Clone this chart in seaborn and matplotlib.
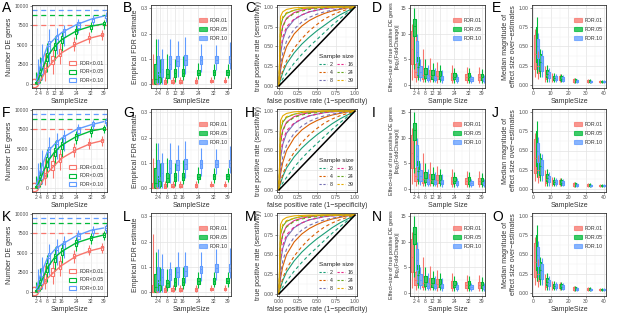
import numpy as np
import pandas as pd
import matplotlib
matplotlib.use("Agg")
import matplotlib.pyplot as plt
import seaborn as sns
from matplotlib.patches import Patch
from matplotlib.lines import Line2D
from matplotlib.ticker import FixedLocator

# ---------------- data ----------------
sample_sizes = [2, 4, 8, 12, 16, 24, 32, 39]
fdr_labels_A = ["FDR<0.01", "FDR<0.05", "FDR<0.10"]
fdr_labels = ["FDR.01", "FDR.05", "FDR.10"]
fdr_colors = ["#F8766D", "#00BA38", "#619CFF"]
de_truth = [7600, 8900, 9500]   # dashed reference lines (FDR .01/.05/.10)

# (lower whisker, q1, median, q3, upper whisker) for each sample size
A_row1 = [
    [(0, 0, 0, 0, 50), (0, 100, 300, 600, 1500), (300, 1500, 2000, 2700, 4000), (1200, 2500, 3100, 3600, 4500),
     (2500, 3600, 4000, 4500, 5200), (4200, 4800, 5100, 5400, 6000), (5200, 5700, 5900, 6100, 6600), (5600, 6100, 6300, 6500, 6900)],
    [(0, 0, 50, 200, 1500), (100, 500, 1100, 1800, 3500), (1500, 2900, 3500, 4000, 5200), (3000, 4300, 4800, 5300, 6200),
     (4200, 5200, 5700, 6100, 6700), (5700, 6400, 6800, 7100, 7500), (6600, 7100, 7400, 7600, 8000), (7100, 7500, 7700, 7900, 8200)],
    [(0, 100, 400, 1200, 3200), (500, 1200, 2200, 3300, 5100), (2500, 4000, 4800, 5500, 7000), (3800, 5200, 5800, 6300, 7200),
     (4800, 6000, 6600, 7000, 7600), (6500, 7200, 7600, 7900, 8300), (7500, 8000, 8300, 8500, 8800), (8000, 8500, 8700, 8900, 9200)],
]
A_row2 = [
    [(0, 0, 0, 0, 50), (0, 100, 300, 600, 1400), (300, 1300, 1900, 2500, 3800), (1200, 2300, 2900, 3400, 4300),
     (2300, 3300, 3800, 4300, 5000), (4000, 4600, 4900, 5200, 5800), (5000, 5500, 5700, 5900, 6400), (5400, 5900, 6100, 6300, 6700)],
    [(0, 0, 50, 200, 1500), (100, 500, 1000, 1700, 3300), (1400, 2700, 3300, 3900, 5000), (2900, 4100, 4600, 5100, 6000),
     (4000, 5000, 5500, 5900, 6500), (5600, 6200, 6600, 6900, 7300), (6500, 7000, 7300, 7500, 7900), (7000, 7400, 7600, 7800, 8100)],
    [(0, 100, 400, 1100, 3200), (500, 1100, 2100, 3200, 4900), (2400, 3900, 4600, 5300, 6500), (3700, 5000, 5600, 6100, 7000),
     (4700, 5800, 6400, 6800, 7400), (6400, 7100, 7500, 7800, 8200), (7400, 7900, 8100, 8400, 8700), (7900, 8300, 8500, 8700, 9000)],
]
A_row3 = [
    [(0, 0, 0, 0, 50), (0, 100, 250, 500, 1200), (300, 1100, 1700, 2300, 3500), (1000, 2000, 2600, 3100, 4000),
     (2000, 2900, 3400, 3900, 4600), (3700, 4300, 4600, 4900, 5400), (4700, 5100, 5300, 5600, 6000), (5000, 5400, 5700, 5900, 6300)],
    [(0, 0, 50, 200, 1300), (100, 400, 900, 1500, 3000), (1300, 2500, 3100, 3700, 4700), (2700, 3800, 4400, 4900, 5700),
     (3700, 4700, 5200, 5600, 6300), (5300, 5900, 6300, 6600, 7000), (6200, 6700, 6900, 7200, 7500), (6600, 7000, 7300, 7500, 7800)],
    [(0, 100, 400, 1000, 2900), (400, 1000, 2000, 3000, 4500), (2200, 3600, 4300, 5000, 6200), (3500, 4800, 5400, 5900, 6800),
     (4400, 5500, 6100, 6500, 7200), (6200, 6800, 7200, 7500, 7900), (7100, 7600, 7900, 8100, 8400), (7500, 7900, 8200, 8400, 8700)],
]

B_row1 = [
    [(0, 0, 0, 0.02, 0.12), (0, 0, 0, 0.005, 0.02), (0, 0.002, 0.008, 0.015, 0.03), (0, 0.003, 0.009, 0.015, 0.028),
     (0, 0.004, 0.01, 0.016, 0.03), (0.002, 0.006, 0.011, 0.017, 0.028), (0.003, 0.007, 0.011, 0.016, 0.027), (0.003, 0.007, 0.011, 0.016, 0.027)],
    [(0, 0, 0.02, 0.08, 0.18), (0, 0.01, 0.03, 0.05, 0.10), (0.005, 0.025, 0.04, 0.06, 0.12), (0.01, 0.03, 0.045, 0.06, 0.10),
     (0.015, 0.032, 0.045, 0.06, 0.11), (0.02, 0.035, 0.046, 0.058, 0.085), (0.022, 0.037, 0.047, 0.058, 0.08), (0.025, 0.038, 0.048, 0.058, 0.078)],
    [(0, 0, 0.04, 0.11, 0.18), (0, 0.03, 0.06, 0.10, 0.14), (0.02, 0.06, 0.08, 0.11, 0.18), (0.03, 0.07, 0.09, 0.11, 0.17),
     (0.04, 0.075, 0.095, 0.115, 0.185), (0.05, 0.08, 0.095, 0.11, 0.16), (0.055, 0.085, 0.097, 0.11, 0.155), (0.06, 0.085, 0.098, 0.11, 0.165)],
]
B_row3 = [
    [(0, 0, 0, 0.03, 0.23), (0, 0, 0, 0.005, 0.02), (0, 0.002, 0.008, 0.015, 0.03), (0, 0.003, 0.009, 0.015, 0.028),
     (0, 0.004, 0.01, 0.016, 0.03), (0.002, 0.006, 0.011, 0.017, 0.028), (0.003, 0.007, 0.011, 0.016, 0.027), (0.003, 0.007, 0.011, 0.016, 0.027)],
    [(0, 0, 0.02, 0.07, 0.16), (0, 0.01, 0.03, 0.05, 0.10), (0.005, 0.02, 0.035, 0.05, 0.09), (0.01, 0.025, 0.04, 0.055, 0.10),
     (0.012, 0.028, 0.04, 0.055, 0.10), (0.018, 0.032, 0.043, 0.055, 0.08), (0.02, 0.034, 0.045, 0.056, 0.08), (0.022, 0.036, 0.046, 0.056, 0.08)],
    [(0, 0, 0.04, 0.10, 0.17), (0, 0.03, 0.06, 0.09, 0.15), (0.02, 0.05, 0.07, 0.09, 0.12), (0.03, 0.06, 0.08, 0.10, 0.16),
     (0.035, 0.065, 0.085, 0.105, 0.16), (0.045, 0.075, 0.09, 0.105, 0.16), (0.05, 0.08, 0.095, 0.11, 0.17), (0.055, 0.08, 0.095, 0.11, 0.175)],
]

D_all = [
    [(1, 4, 7, 10.5, 12), (0.5, 1.5, 2.5, 4, 12), (0.5, 1.2, 2, 3, 7), (0.5, 1.2, 1.8, 2.8, 5.2),
     (0.4, 1.1, 1.7, 2.6, 4.4), (0.4, 1, 1.5, 2.3, 3.8), (0.4, 1, 1.5, 2.2, 3.5), (0.4, 1, 1.5, 2.2, 3.4)],
    [(3, 9.5, 11.5, 12.8, 15), (1, 2, 3.5, 5.5, 8), (0.6, 1.4, 2.2, 3.2, 5), (0.5, 1.2, 1.9, 2.9, 4.2),
     (0.5, 1.2, 1.8, 2.7, 3.8), (0.4, 1.1, 1.6, 2.4, 3.3), (0.4, 1, 1.5, 2.3, 3.2), (0.4, 1, 1.5, 2.2, 3.1)],
    [(2, 4.5, 6.5, 8.5, 10), (0.8, 1.5, 2.5, 3.6, 5), (0.5, 1, 1.4, 2, 3.8), (0.5, 0.9, 1.3, 1.8, 3.2),
     (0.4, 0.9, 1.2, 1.7, 2.8), (0.4, 0.8, 1.1, 1.5, 2.2), (0.4, 0.8, 1.1, 1.5, 2), (0.4, 0.8, 1.1, 1.4, 2)],
]

E_all = [
    [(0.1, 0.2, 0.4, 0.65, 0.73), (0.08, 0.15, 0.25, 0.35, 0.44), (0.03, 0.08, 0.13, 0.18, 0.25), (0.03, 0.06, 0.09, 0.12, 0.16),
     (0.03, 0.06, 0.08, 0.11, 0.14), (0.02, 0.04, 0.06, 0.07, 0.09), (0.02, 0.035, 0.045, 0.06, 0.07), (0.02, 0.03, 0.04, 0.05, 0.06)],
    [(0.15, 0.3, 0.5, 0.75, 0.88), (0.1, 0.18, 0.3, 0.4, 0.47), (0.04, 0.1, 0.14, 0.19, 0.26), (0.03, 0.06, 0.09, 0.12, 0.16),
     (0.03, 0.06, 0.08, 0.11, 0.14), (0.02, 0.04, 0.06, 0.07, 0.09), (0.02, 0.035, 0.045, 0.06, 0.07), (0.02, 0.03, 0.04, 0.05, 0.06)],
    [(0.2, 0.35, 0.5, 0.6, 0.68), (0.1, 0.18, 0.28, 0.38, 0.45), (0.04, 0.09, 0.13, 0.17, 0.22), (0.03, 0.06, 0.08, 0.11, 0.14),
     (0.03, 0.05, 0.07, 0.1, 0.13), (0.02, 0.04, 0.05, 0.065, 0.08), (0.02, 0.03, 0.04, 0.055, 0.065), (0.02, 0.03, 0.04, 0.05, 0.06)],
]

# ROC curves (true positive rate at given false positive rates)
roc_fpr = [0, 0.02, 0.05, 0.1, 0.2, 0.3, 0.4, 0.5, 0.6, 0.7, 0.8, 0.9, 1.0]
roc_sizes = ["2", "4", "8", "16", "24", "39"]
roc_colors = ["#1B9E77", "#D95F02", "#7570B3", "#E7298A", "#66A61E", "#E6AB02"]
roc_solid = [
    [0, 0.08, 0.17, 0.28, 0.42, 0.53, 0.62, 0.70, 0.77, 0.84, 0.90, 0.95, 1.0],
    [0, 0.20, 0.35, 0.50, 0.66, 0.76, 0.83, 0.88, 0.92, 0.95, 0.97, 0.99, 1.0],
    [0, 0.40, 0.58, 0.72, 0.84, 0.90, 0.94, 0.96, 0.98, 0.99, 0.995, 1.0, 1.0],
    [0, 0.60, 0.76, 0.86, 0.93, 0.96, 0.98, 0.99, 0.995, 1.0, 1.0, 1.0, 1.0],
    [0, 0.75, 0.86, 0.92, 0.96, 0.98, 0.99, 0.995, 1.0, 1.0, 1.0, 1.0, 1.0],
    [0, 0.88, 0.94, 0.97, 0.99, 0.995, 1.0, 1.0, 1.0, 1.0, 1.0, 1.0, 1.0],
]
roc_dashed = [
    [0, 0.04, 0.09, 0.16, 0.29, 0.40, 0.50, 0.59, 0.68, 0.77, 0.85, 0.93, 1.0],
    [0, 0.10, 0.20, 0.32, 0.48, 0.60, 0.70, 0.78, 0.85, 0.90, 0.94, 0.97, 1.0],
    [0, 0.25, 0.42, 0.57, 0.72, 0.81, 0.87, 0.91, 0.94, 0.96, 0.98, 0.99, 1.0],
    [0, 0.45, 0.62, 0.75, 0.85, 0.90, 0.94, 0.96, 0.98, 0.99, 0.995, 1.0, 1.0],
    [0, 0.60, 0.75, 0.85, 0.92, 0.95, 0.97, 0.98, 0.99, 0.995, 1.0, 1.0, 1.0],
    [0, 0.78, 0.88, 0.93, 0.96, 0.98, 0.99, 0.995, 1.0, 1.0, 1.0, 1.0, 1.0],
]

row_data = [
    dict(A=A_row1, B=B_row1, letters="ABCDE"),
    dict(A=A_row2, B=B_row1, letters="FGHIJ"),
    dict(A=A_row3, B=B_row3, letters="KLMNO"),
]

# ---------------- style ----------------
sns.set_theme(style="white")
plt.rcParams["font.family"] = ["Liberation Sans", "DejaVu Sans"]
TICK_FS = 3.6
LAB_FS = 5.0
LEG_FS = 3.8
W, H = 617, 314

fig = plt.figure(figsize=(W / 100, H / 100), dpi=100)


def add_ax(l, r, t, b):
    return fig.add_axes([l / W, 1 - b / H, (r - l) / W, (b - t) / H])


def style_ax(ax, xmajor, ymajor):
    ax.set_facecolor("white")
    for s in ax.spines.values():
        s.set_color("#333333")
        s.set_linewidth(0.6)
    ax.set_axisbelow(True)
    ax.xaxis.set_major_locator(FixedLocator(xmajor))
    ax.yaxis.set_major_locator(FixedLocator(ymajor))
    xm = [(a + b) / 2 for a, b in zip(xmajor[:-1], xmajor[1:])]
    ym = [(a + b) / 2 for a, b in zip(ymajor[:-1], ymajor[1:])]
    ax.xaxis.set_minor_locator(FixedLocator(xm))
    ax.yaxis.set_minor_locator(FixedLocator(ym))
    ax.grid(True, which="major", color="#E3E3E3", lw=0.5)
    ax.grid(True, which="minor", color="#F0F0F0", lw=0.3)
    ax.tick_params(which="major", labelsize=TICK_FS, length=1.5, width=0.4, pad=1,
                   color="#333333", labelcolor="#4D4D4D", bottom=True, left=True)
    ax.tick_params(which="minor", length=0)


def box_df(stats, labels):
    rows = []
    for lab, series in zip(labels, stats):
        for n, st in zip(sample_sizes, series):
            for v in st:
                rows.append((n, lab, v))
    return pd.DataFrame(rows, columns=["n", "fdr", "v"])


def draw_boxes(ax, stats, labels, width, lw, fill_alpha=None):
    df = box_df(stats, labels)
    if fill_alpha is not None:
        sns.boxplot(data=df, x="n", y="v", hue="fdr", hue_order=labels, palette=fdr_colors,
                    native_scale=True, whis=np.inf, width=width, fill=True, linewidth=0,
                    showcaps=False, saturation=1, legend=False, ax=ax)
        for p in ax.patches:
            fc = p.get_facecolor()
            p.set_facecolor((fc[0], fc[1], fc[2], fill_alpha))
            p.set_edgecolor("none")
    sns.boxplot(data=df, x="n", y="v", hue="fdr", hue_order=labels, palette=fdr_colors,
                native_scale=True, whis=np.inf, width=width, fill=False, linewidth=lw,
                showcaps=False, legend=False, ax=ax)


def fdr_legend(ax, labels, filled, loc, anchor):
    handles = [Patch(facecolor=(c if filled else "white"), edgecolor=c, alpha=1 if not filled else 0.75,
                     linewidth=0.8, label=l) for c, l in zip(fdr_colors, labels)]
    leg = ax.legend(handles=handles, loc=loc, bbox_to_anchor=anchor, fontsize=LEG_FS, frameon=False,
                    handlelength=1.4, handleheight=0.8, labelspacing=0.7, handletextpad=0.6,
                    borderaxespad=0.2)
    for t in leg.get_texts():
        t.set_color("#333333")


rows_px = [(5, 88), (109, 192), (213, 296)]
letter_y = [1, 106, 210]
cols_px = [(32, 107), (151, 231), (277, 357), (410, 485), (532, 606)]
letter_x = [2, 123, 245, 372, 492]

for ri, rd in enumerate(row_data):
    t, b = rows_px[ri]
    # ---- panel A: number of DE genes ----
    ax = add_ax(cols_px[0][0], cols_px[0][1], t, b)
    for yv, c in zip(de_truth, fdr_colors):
        ax.axhline(yv, color=c, ls=(0, (4, 3)), lw=0.9)
    draw_boxes(ax, rd["A"], fdr_labels_A, 1.7, 0.8)
    for series, c in zip(rd["A"], fdr_colors):
        med = pd.DataFrame({"n": sample_sizes, "m": [s[2] for s in series]})
        sns.lineplot(data=med, x="n", y="m", color=c, lw=1.0, ax=ax)
    style_ax(ax, sample_sizes, [0, 2500, 5000, 7500, 10000])
    ax.set_xlim(-0.4, 40.8)
    ax.set_ylim(-540, 10125)
    ax.set_xlabel("SampleSize", fontsize=LAB_FS, labelpad=1, color="#333333")
    ax.set_ylabel("Number DE genes", fontsize=LAB_FS, labelpad=1, color="#333333")
    fdr_legend(ax, fdr_labels_A, False, "lower right", (1.0, 0.02))

    # ---- panel B: empirical FDR ----
    ax = add_ax(cols_px[1][0], cols_px[1][1], t, b)
    draw_boxes(ax, rd["B"], fdr_labels, 1.9, 0.8, fill_alpha=0.75)
    style_ax(ax, sample_sizes, [0, 0.1, 0.2, 0.3])
    ax.set_yticklabels(["0.0", "0.1", "0.2", "0.3"])
    ax.set_xlim(-0.4, 40.8)
    ax.set_ylim(-0.015, 0.313)
    ax.set_xlabel("SampleSize", fontsize=LAB_FS, labelpad=1, color="#333333")
    ax.set_ylabel("Empirical FDR estimate", fontsize=LAB_FS, labelpad=1, color="#333333")
    fdr_legend(ax, fdr_labels, True, "upper right", (1.0, 0.88))

    # ---- panel C: ROC ----
    ax = add_ax(cols_px[2][0], cols_px[2][1], t, b)
    recs = []
    for sz, ys, yd in zip(roc_sizes, roc_solid, roc_dashed):
        for x, y in zip(roc_fpr, ys):
            recs.append((x, y, sz, "solid"))
        for x, y in zip(roc_fpr, yd):
            recs.append((x, y, sz, "dashed"))
    rdf = pd.DataFrame(recs, columns=["fpr", "tpr", "size", "kind"])
    sns.lineplot(data=rdf, x="fpr", y="tpr", hue="size", hue_order=roc_sizes, palette=roc_colors,
                 style="kind", style_order=["solid", "dashed"], dashes={"solid": "", "dashed": (3, 2.5)},
                 estimator=None, sort=False, lw=0.8, legend=False, ax=ax)
    diag = pd.DataFrame({"x": [0, 1], "y": [0, 1]})
    sns.lineplot(data=diag, x="x", y="y", color="black", lw=1.1, ax=ax)
    style_ax(ax, [0, 0.25, 0.5, 0.75, 1.0], [0, 0.25, 0.5, 0.75, 1.0])
    ax.set_xticklabels(["0.00", "0.25", "0.50", "0.75", "1.00"])
    ax.set_yticklabels(["0.00", "0.25", "0.50", "0.75", "1.00"])
    ax.set_xlim(-0.026, 1.026)
    ax.set_ylim(-0.026, 1.026)
    ax.set_xlabel("false positive rate (1\u2212specificity)", fontsize=LAB_FS, labelpad=1, color="#333333")
    ax.set_ylabel("true positive rate (sensitivity)", fontsize=LAB_FS, labelpad=1, color="#333333")
    handles = [Line2D([0], [0], color=c, lw=0.8, ls=(0, (2, 1.5)), label=s) for s, c in zip(roc_sizes, roc_colors)]
    leg = ax.legend(handles=handles, ncol=2, loc="lower right", bbox_to_anchor=(1.0, 0.02), title="Sample size",
                    fontsize=LEG_FS, title_fontsize=4.6, frameon=False, handlelength=1.4,
                    labelspacing=0.6, columnspacing=0.8, handletextpad=0.6, borderaxespad=0.2)

    # ---- panel D: effect size of true positives ----
    ax = add_ax(cols_px[3][0], cols_px[3][1], t, b)
    draw_boxes(ax, D_all, fdr_labels, 2.0, 0.8, fill_alpha=0.75)
    style_ax(ax, sample_sizes, [0, 5, 10, 15])
    ax.set_xlim(-0.4, 40.8)
    ax.set_ylim(-0.64, 15.64)
    ax.set_xlabel("Sample Size", fontsize=LAB_FS, labelpad=1, color="#333333")
    ax.set_ylabel("Effect\u2212size of true positive DE genes\n|log\u2082(FoldChange)|", fontsize=3.9,
                  labelpad=1, color="#333333", linespacing=1.2)
    fdr_legend(ax, fdr_labels, True, "upper right", (1.0, 0.88))

    # ---- panel E: effect size over-estimates ----
    ax = add_ax(cols_px[4][0], cols_px[4][1], t, b)
    draw_boxes(ax, E_all, fdr_labels, 1.5, 0.8, fill_alpha=0.75)
    style_ax(ax, [0, 10, 20, 30, 40], [0, 0.25, 0.5, 0.75, 1.0])
    ax.set_yticklabels(["0.00", "0.25", "0.50", "0.75", "1.00"])
    ax.set_xticklabels(["0", "10", "20", "30", "40"])
    ax.set_xlim(-0.6, 41.3)
    ax.set_ylim(-0.042, 1.042)
    ax.set_xlabel("SampleSize", fontsize=LAB_FS, labelpad=1, color="#333333")
    ax.set_ylabel("Median magnitude of\neffect size over\u2212estimates", fontsize=LAB_FS, labelpad=1,
                  color="#333333", linespacing=1.2)
    fdr_legend(ax, fdr_labels, True, "upper right", (1.0, 0.88))

    for ci, L in enumerate(rd["letters"]):
        fig.text(letter_x[ci] / W, 1 - letter_y[ri] / H, L, fontsize=10, va="top", ha="left", color="black")

fig.savefig("out.png", dpi=100, facecolor="white")
